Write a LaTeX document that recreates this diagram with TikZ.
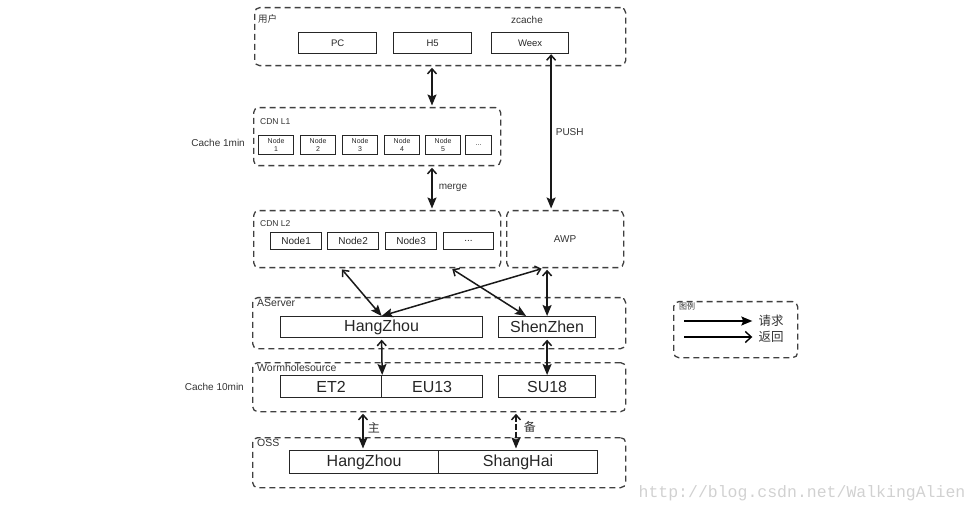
\documentclass[tikz,border=0pt]{standalone}
\usepackage{fontspec}
\setmainfont{Liberation Sans}
\newfontfamily\cjk{Noto Sans CJK SC}
\newfontfamily\wmfont{Liberation Mono}
\usetikzlibrary{arrows.meta, positioning}

\begin{document}
\begin{tikzpicture}[x=1pt, y=-1pt,
  grp/.style={
    draw=black!75, line width=1.3pt, dash pattern=on 6pt off 4pt,
    rounded corners=5pt, anchor=north west, inner sep=0pt
  },
  box/.style={
    draw=black!85, line width=1.2pt, anchor=north west,
    inner sep=0pt, text=black!85
  },
  lbl/.style={anchor=west, inner sep=0pt, text=black!80},
  tiny/.style={font=\fontsize{7}{7.5}\selectfont, align=center},
  small/.style={font=\fontsize{9.5}{11}\selectfont},
  mid/.style={font=\fontsize{10}{12}\selectfont},
  big/.style={font=\fontsize{16}{18}\selectfont},
  dbl/.style={{Straight Barb[length=5pt,width=9pt]}-{Stealth[length=11pt,width=9pt,inset=2pt]},
    line width=1.5pt, black!90, shorten <=1.5pt, shorten >=1.5pt},
  reqarr/.style={-{Stealth[length=11pt,width=9pt,inset=2pt]}, line width=1.4pt},
  retarr/.style={-{Straight Barb[length=6pt,width=11pt]}, line width=1.4pt}
]
\useasboundingbox (0,0) rectangle (978,513);

% ---- user ----
\node[grp, minimum width=371pt, minimum height=58pt] (gUser) at (254,7) {};
\node[lbl, font=\fontsize{9.5}{11}\selectfont] (userLbl) at (258,19) {\cjk 用户};
\node[lbl, anchor=center, mid] (zcache) at (527,20) {zcache};
\node[box, small, minimum width=78pt, minimum height=21pt] (pc)   at (298,32) {PC};
\node[box, small, minimum width=78pt, minimum height=21pt] (h5)   at (393,32) {H5};
\node[box, small, minimum width=77pt, minimum height=21pt] (weex) at (491,32) {Weex};

% ---- CDN L1 ----
\node[grp, minimum width=247pt, minimum height=58pt] (gL1) at (253,107) {};
\node[lbl, font=\fontsize{8.5}{10}\selectfont] (l1Lbl) at (260,122) {CDN L1};
\node[lbl, anchor=east, mid] (cache1) at (245,143) {Cache 1min};
\foreach \i/\x in {1/258, 2/300, 3/342, 4/384, 5/425}
  \node[box, tiny, minimum width=35pt, minimum height=19pt] (n\i) at (\x,135) {Node\\\i};
\node[box, tiny, minimum width=26pt, minimum height=19pt] (n6) at (465,135) {...};

% ---- CDN L2 / AWP ----
\node[grp, minimum width=247pt, minimum height=57pt] (gL2) at (253,210) {};
\node[lbl, font=\fontsize{8.5}{10}\selectfont] (l2Lbl) at (260,224) {CDN L2};
\node[box, mid, minimum width=51pt, minimum height=17pt] (m1) at (270,232) {Node1};
\node[box, mid, minimum width=51pt, minimum height=17pt] (m2) at (327,232) {Node2};
\node[box, mid, minimum width=51pt, minimum height=17pt] (m3) at (385,232) {Node3};
\node[box, mid, minimum width=50pt, minimum height=17pt] (m4) at (443,232) {...};
\node[grp, minimum width=117pt, minimum height=57pt] (gAWP) at (506,210) {};
\node[lbl, anchor=center, mid] (awp) at (565,239) {AWP};

% ---- AServer ----
\node[grp, minimum width=373pt, minimum height=51pt] (gAS) at (252,297) {};
\node[lbl, font=\fontsize{10.5}{12}\selectfont] (asLbl) at (257,303) {AServer};
\node[box, big, minimum width=202pt, minimum height=21pt] (hz)  at (280,316) {HangZhou};
\node[box, big, minimum width=97pt,  minimum height=21pt] (sz)  at (498,316) {ShenZhen};

% ---- Wormholesource ----
\node[grp, minimum width=373pt, minimum height=49pt] (gWS) at (252,362) {};
\node[lbl, font=\fontsize{10.5}{12}\selectfont] (wsLbl) at (257,368) {Wormholesource};
\node[lbl, anchor=east, mid] (cache10) at (244,387) {Cache 10min};
\node[box, big, minimum width=101pt, minimum height=22pt] (et2)  at (280,375) {ET2};
\node[box, big, minimum width=101pt, minimum height=22pt] (eu13) at (381,375) {EU13};
\node[box, big, minimum width=97pt,  minimum height=22pt] (su18) at (498,375) {SU18};

% ---- OSS ----
\node[grp, minimum width=373pt, minimum height=50pt] (gOSS) at (252,437) {};
\node[lbl, font=\fontsize{10.5}{12}\selectfont] (ossLbl) at (257,443) {OSS};
\node[box, big, minimum width=149pt, minimum height=23pt] (ohz) at (289,450) {HangZhou};
\node[box, big, minimum width=159pt, minimum height=23pt] (osh) at (438,450) {ShangHai};

% ---- legend ----
\node[grp, minimum width=124pt, minimum height=56pt] (gLeg) at (673,301) {};
\node[lbl, font=\fontsize{8}{9}\selectfont] (legLbl) at (679,306) {\cjk 图例};
\node[lbl, anchor=center, font=\fontsize{12.5}{14}\selectfont] (req) at (771,321) {\cjk 请求};
\node[lbl, anchor=center, font=\fontsize{12.5}{14}\selectfont] (ret) at (771,337) {\cjk 返回};
\coordinate (reqS) at (684,321);
\coordinate (retS) at (684,337);
\draw[reqarr] (reqS) -- ([xshift=-6pt]req.west);
\draw[retarr] (retS) -- ([xshift=-6pt]ret.west);

% ---- arrows ----
\coordinate (cdnx) at (432,0);
\draw[dbl] (gUser.south -| cdnx) -- (gL1.north -| cdnx);
\draw[dbl] (gL1.south -| cdnx) -- node[lbl, right=6pt, mid] (merge) {merge} (gL2.north -| cdnx);

\coordinate (pushTop) at ([xshift=21pt]weex.south);
\draw[dbl, shorten <=0pt] (pushTop) -- node[lbl, right=4pt, mid] (push) {PUSH} (pushTop |- gAWP.north);

\draw[dbl, shorten >=0pt] ([xshift=88pt]gL2.south west) -- (hz.north);
\draw[dbl, shorten >=0pt] ([xshift=198pt]gL2.south west) -- ([xshift=-21pt]sz.north);
\draw[dbl, shorten >=0pt] ([xshift=37pt]gAWP.south west) -- (hz.north);
\draw[dbl, shorten >=0pt] (sz.north |- gAWP.south) -- (sz.north);

\draw[dbl, shorten >=0pt] (hz.south) -- (et2.north east);
\draw[dbl, shorten >=0pt] (sz.south) -- (su18.north);

\coordinate (mainx) at (363,0);
\coordinate (backx) at (516,0);
\draw[dbl] (gWS.south -| mainx) -- node[lbl, right=4pt, pos=0.4, font=\fontsize{12}{13}\selectfont] (zhu) {\cjk 主} (ohz.north -| mainx);
\draw[dbl, dash pattern=on 6pt off 2pt] (gWS.south -| backx) -- node[lbl, right=7pt, pos=0.4, font=\fontsize{12}{13}\selectfont] (bei) {\cjk 备} (ohz.north -| backx);

% ---- watermark ----
\node[text=black!18, font=\wmfont\fontsize{16.5}{18}\selectfont, inner sep=0pt] (wm) at (802,493) {http://blog.csdn.net/WalkingAlien};

\end{tikzpicture}
\end{document}
